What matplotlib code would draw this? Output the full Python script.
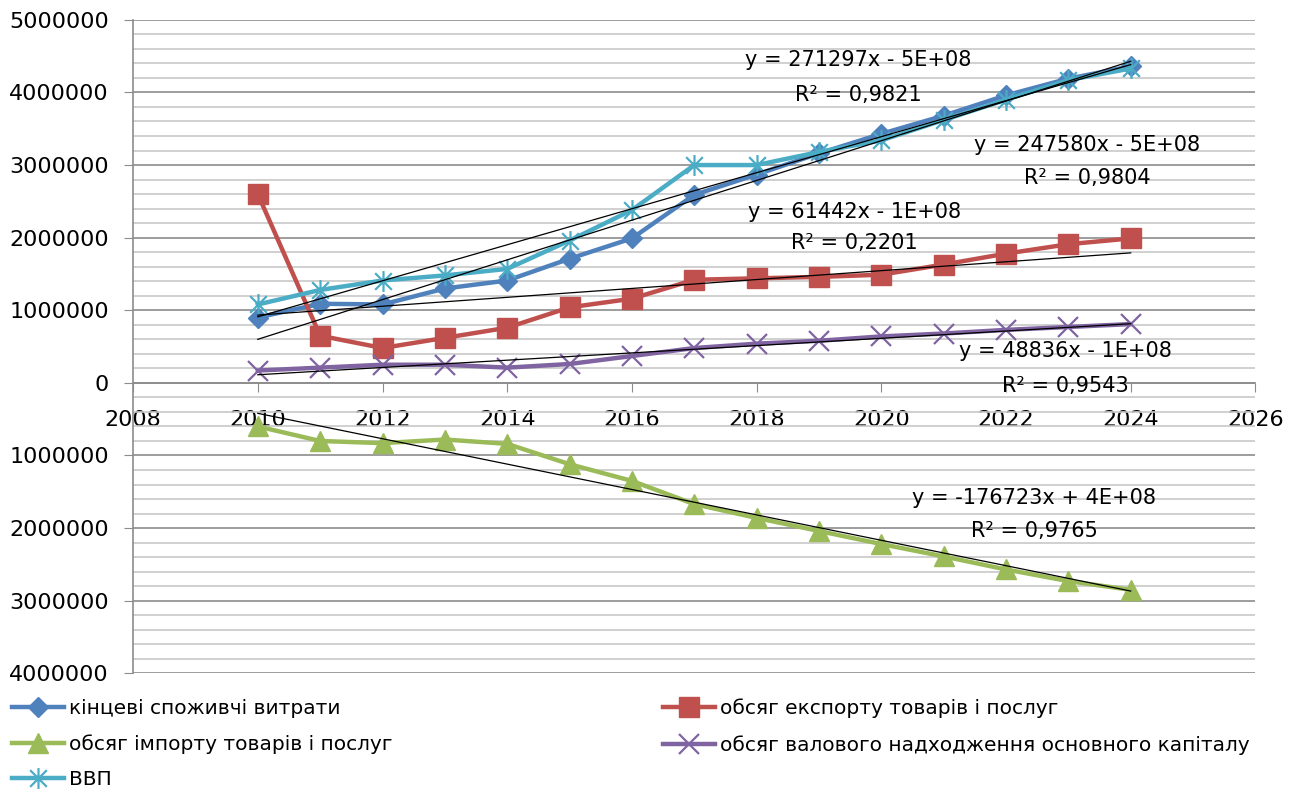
import numpy as np
import matplotlib
matplotlib.use("Agg")
import matplotlib.pyplot as plt
from matplotlib.path import Path
from matplotlib.ticker import MultipleLocator, FuncFormatter

# Data
years = list(range(2010, 2025))
consumption = [900000, 1090000, 1080000, 1300000, 1410000, 1710000, 1990000, 2590000,
               2870000, 3160000, 3430000, 3680000, 3960000, 4190000, 4360000]
exports = [2600000, 650000, 480000, 620000, 760000, 1040000, 1160000, 1420000,
           1440000, 1460000, 1490000, 1630000, 1780000, 1910000, 1990000]
imports = [-600000, -800000, -830000, -780000, -840000, -1120000, -1350000, -1670000,
           -1860000, -2040000, -2220000, -2390000, -2570000, -2730000, -2850000]
capital = [170000, 210000, 250000, 250000, 210000, 260000, 370000, 480000,
           540000, 580000, 640000, 680000, 730000, 770000, 810000]
gdp = [1080000, 1280000, 1410000, 1480000, 1570000, 1960000, 2380000, 3000000,
       3000000, 3180000, 3340000, 3620000, 3900000, 4170000, 4330000]

labels = ["кінцеві споживчі витрати", "обсяг експорту товарів і послуг",
          "обсяг імпорту товарів і послуг", "обсяг валового надходження основного капіталу",
          "ВВП"]
colors = ["#4F81BD", "#C0504D", "#9BBB59", "#8064A2", "#4BACC6"]

# trendline equations as printed on the chart
equations = [
    ("y = 271297x - 5E+08", "R² = 0,9821", 2019.63, 4.45e6, 3.96e6),
    ("y = 247580x - 5E+08", "R² = 0,9804", 2023.3, 3.27e6, 2.82e6),
    ("y = 61442x - 1E+08", "R² = 0,2201", 2019.57, 2.35e6, 1.92e6),
    ("y = 48836x - 1E+08", "R² = 0,9543", 2022.95, 0.44e6, -0.04e6),
    ("y = -176723x + 4E+08", "R² = 0,9765", 2022.45, -1.59e6, -2.04e6),
]

# Excel-like star marker: X with a vertical bar
star = Path([(0, -1), (0, 1), (-0.8, -0.8), (0.8, 0.8), (-0.8, 0.8), (0.8, -0.8)],
            [Path.MOVETO, Path.LINETO] * 3)

fig = plt.figure(figsize=(13.05, 7.94), dpi=100)
ax = fig.add_axes([0.102, 0.152, 0.860, 0.823])

series = [consumption, exports, imports, capital, gdp]
styles = [
    dict(marker="D", markersize=10),
    dict(marker="s", markersize=15),
    dict(marker="^", markersize=15),
    dict(marker="x", markersize=15, markeredgewidth=1.6),
    dict(marker=star, markersize=15, markeredgewidth=1.6),
]
handles = []
for vals, lab, col, st in zip(series, labels, colors, styles):
    h, = ax.plot(years, vals, color=col, lw=3.2, label=lab, zorder=3,
                 markerfacecolor=col, markeredgecolor=col, **st)
    handles.append(h)

# linear trendlines
x = np.array(years)
for vals in series:
    k, b = np.polyfit(x, vals, 1)
    ax.plot(x, k * x + b, color="black", lw=0.9, zorder=4)

for eq, r2, tx, ty1, ty2 in equations:
    ax.text(tx, ty1, eq, ha="center", va="center", fontsize=15, zorder=5)
    ax.text(tx, ty2, r2, ha="center", va="center", fontsize=15, zorder=5)

ax.set_xlim(2008, 2026)
ax.set_ylim(-4000000, 5000000)
ax.xaxis.set_major_locator(MultipleLocator(2))
ax.yaxis.set_major_locator(MultipleLocator(1000000))
ax.yaxis.set_minor_locator(MultipleLocator(200000))
ax.yaxis.set_major_formatter(FuncFormatter(lambda v, p: "%d" % abs(round(v))))

ax.grid(axis="y", which="major", color="#8C8C8C", lw=1.2, zorder=0)
ax.grid(axis="y", which="minor", color="#C8C8C8", lw=1.2, zorder=0)
ax.set_axisbelow(True)

for s in ["top", "right"]:
    ax.spines[s].set_visible(False)
ax.spines["bottom"].set_position(("data", 0))
ax.spines["bottom"].set_color("#8C8C8C")
ax.spines["left"].set_color("#8C8C8C")
ax.spines["left"].set_linewidth(1.2)
ax.spines["bottom"].set_linewidth(1.2)

ax.tick_params(axis="y", which="major", length=6.5, color="#8C8C8C", labelsize=16, pad=11)
ax.tick_params(axis="y", which="minor", length=0)
ax.tick_params(axis="x", length=6.5, color="#8C8C8C", labelsize=16, pad=13)

# legend split in two columns like the Excel layout
left_idx = [0, 2, 4]
right_idx = [1, 3]
common = dict(frameon=False, prop={"size": 14.5},
              handlelength=2.6, handletextpad=0.25, labelspacing=0.82,
              numpoints=1, borderaxespad=0, borderpad=0)
leg1 = fig.legend([handles[i] for i in left_idx], [labels[i] for i in left_idx],
                  loc="upper left", bbox_to_anchor=(0.009, 0.12), **common)
leg2 = fig.legend([handles[i] for i in right_idx], [labels[i] for i in right_idx],
                  loc="upper left", bbox_to_anchor=(0.508, 0.12), **common)

fig.savefig("out.png", dpi=100)
